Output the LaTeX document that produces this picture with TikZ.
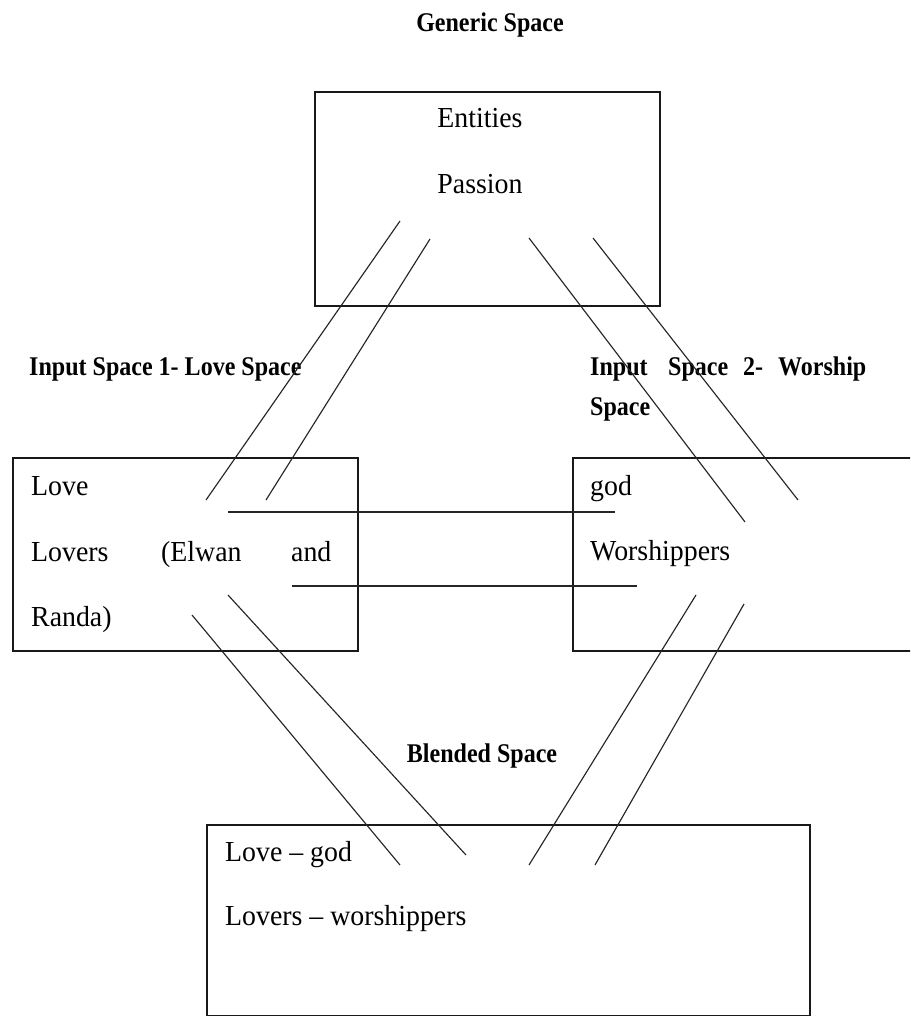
\documentclass[tikz,border=0pt]{standalone}
\usepackage{fontspec}
\setmainfont{Liberation Serif}
\newfontfamily\bodyfont[FakeStretch=0.96]{Liberation Serif}
\newfontfamily\headfont[FakeStretch=0.89]{Liberation Serif Bold}
\begin{document}
\begin{tikzpicture}[x=1pt,y=-1pt,
  spacebox/.style={draw=black!90, line width=1.7pt, inner sep=0pt, anchor=north west},
  link/.style={draw=black!85, line width=1.15pt},
  body/.style={inner sep=0pt, anchor=base west, font=\bodyfont\fontsize{29}{34}\selectfont},
  bodyc/.style={body, anchor=base},
  head/.style={inner sep=0pt, anchor=base west, font=\headfont\fontsize{27}{32}\selectfont},
  headc/.style={head, anchor=base}]
\useasboundingbox (0,0) rectangle (910,1016);
\clip (0,0) rectangle (910,1016);

% the four spaces
\node[spacebox, minimum width=345pt, minimum height=214pt] (generic) at (314,91) {};
\node[spacebox, minimum width=345pt, minimum height=193pt] (input1) at (12,457) {};
\node[spacebox, minimum width=380pt, minimum height=193pt] (input2) at (572,457) {};
\node[spacebox, minimum width=603pt, minimum height=191pt] (blend) at (206,824) {};

% headings
\node[headc] (hgeneric) at (490,32) {Generic Space};
\node[head] (hin1) at (29,375) {Input Space 1- Love Space};
\node[head] (hin2a) at (590,375) {Input};
\node[head] (hin2b) at (668,375) {Space};
\node[head] (hin2c) at (743,375) {2-};
\node[head] (hin2d) at (778,375) {Worship};
\node[head] (hin2e) at (590,415) {Space};
\node[headc] (hblend) at (482,762) {Blended Space};

% contents of the spaces
\node[bodyc] (entities) at (480,128) {Entities};
\node[bodyc] (passion) at (480,194) {Passion};

\node[body] (love) at (31,495) {Love};
\node[body] (lovers) at (31,561) {Lovers};
\node[body] (elwan) at (161,561) {(Elwan};
\node[body] (and) at (291,561) {and};
\node[body] (randa) at (31,626) {Randa)};

\node[body] (god) at (590,495) {god};
\node[body] (worshippers) at (590,560) {Worshippers};

\node[body] (lovegod) at (225,861) {Love – god};
\node[body] (loverswor) at (225,925) {Lovers – worshippers};

% end points of the mapping lines
\coordinate (a1) at (400,221); \coordinate (a2) at (206,500);
\coordinate (b1) at (430,239); \coordinate (b2) at (266,500);
\coordinate (c1) at (529,238); \coordinate (c2) at (745,522);
\coordinate (d1) at (593,238); \coordinate (d2) at (798,500);
\coordinate (e1) at (192,615); \coordinate (e2) at (400,865);
\coordinate (f1) at (228,595); \coordinate (f2) at (466,855);
\coordinate (g1) at (696,595); \coordinate (g2) at (529,865);
\coordinate (h1) at (744,604); \coordinate (h2) at (595,865);
\coordinate (m1) at (228,512); \coordinate (m2) at (615,512);
\coordinate (n1) at (292,586); \coordinate (n2) at (637,586);

% generic space to the inputs
\draw[link] (a1) -- (a2);
\draw[link] (b1) -- (b2);
\draw[link] (c1) -- (c2);
\draw[link] (d1) -- (d2);
% cross-space mappings
\draw[link] (m1) -- (m2);
\draw[link] (n1) -- (n2);
% inputs to the blend
\draw[link] (e1) -- (e2);
\draw[link] (f1) -- (f2);
\draw[link] (g1) -- (g2);
\draw[link] (h1) -- (h2);
\end{tikzpicture}
\end{document}
